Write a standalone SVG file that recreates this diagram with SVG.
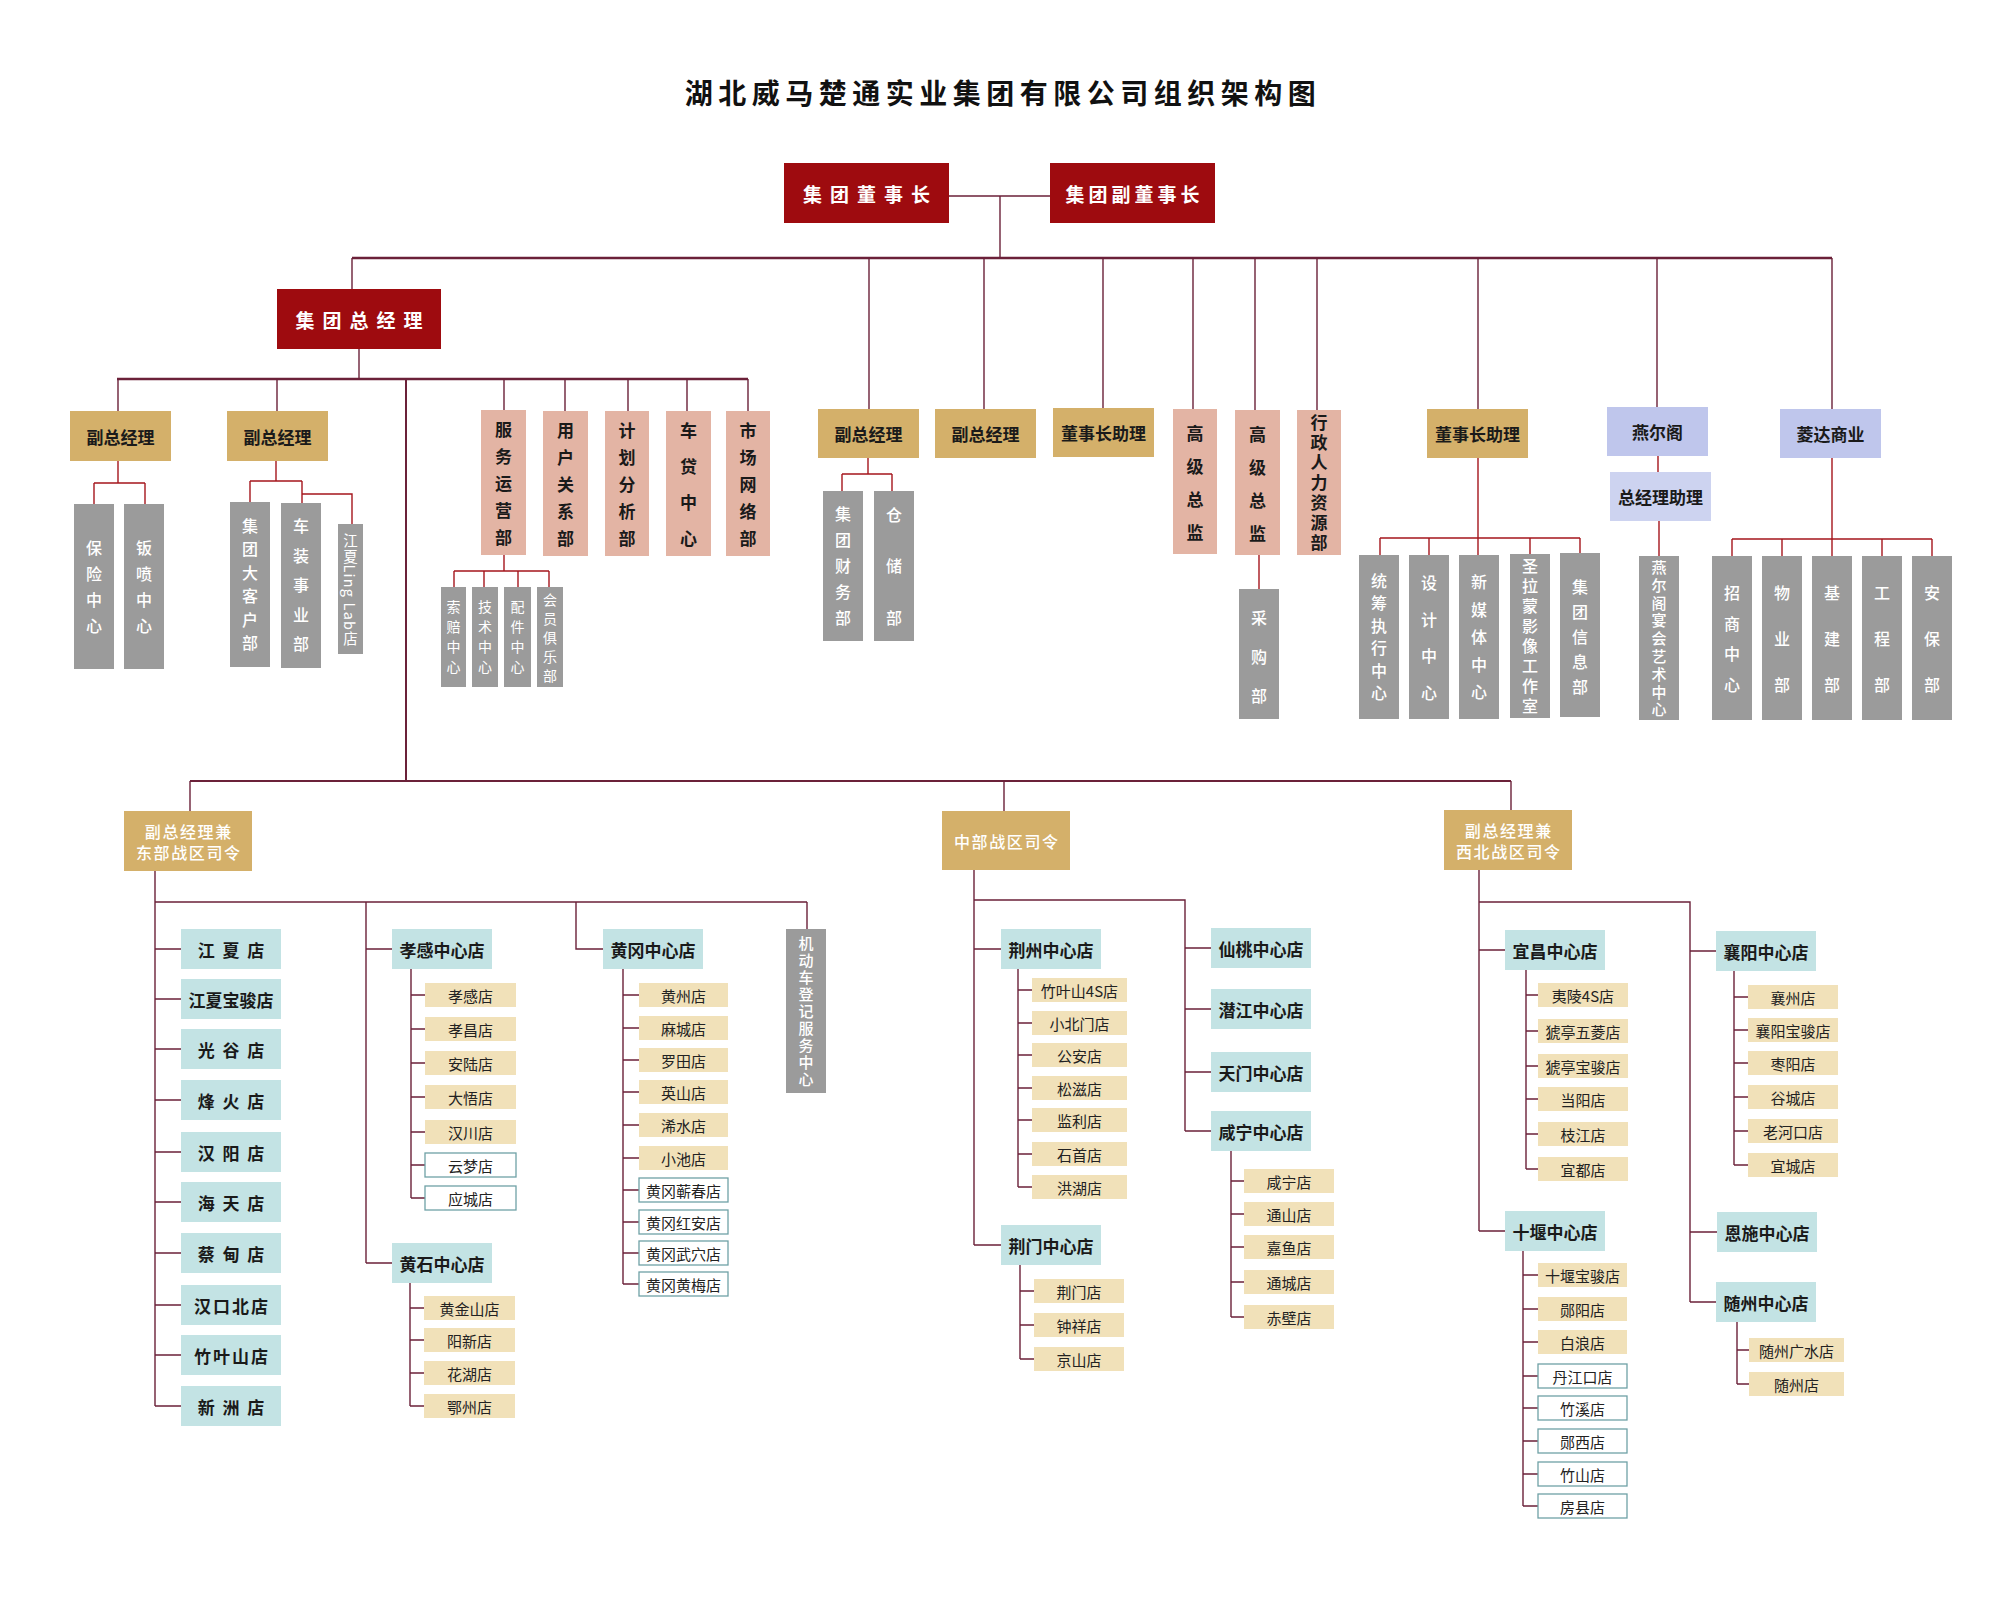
<svg xmlns="http://www.w3.org/2000/svg" width="2000" height="1600" viewBox="0 0 2000 1600">
<style>
text{font-family:"Noto Sans CJK SC","Liberation Sans",sans-serif;}
.red{fill:#9e0b0f}
.gold{fill:#d4b06a}
.pink{fill:#e3b4a4}
.grey{fill:#9b9b9b}
.blue{fill:#c3e3e4}
.beige{fill:#f1e1b9}
.wb{fill:#ffffff;stroke:#6fa1a6;stroke-width:1.3}
.lav{fill:#bfc6ec}
.lav2{fill:#cdd3f0}
.title{font-size:28px;font-weight:700;fill:#111;text-anchor:middle;letter-spacing:5.5px}
.tr{font-size:19px;font-weight:700;fill:#fff;text-anchor:middle;dominant-baseline:central}
.tg{font-size:17px;font-weight:700;fill:#1a1a1a;text-anchor:middle;dominant-baseline:central}
.tw{font-size:16px;font-weight:500;fill:#fff;text-anchor:middle;dominant-baseline:central;letter-spacing:1.6px}
.tb{font-size:17px;font-weight:700;fill:#1a1a1a;text-anchor:middle;dominant-baseline:central}
.ts{font-size:15px;fill:#222;text-anchor:middle;dominant-baseline:central}
.vp{font-size:17px;font-weight:700;fill:#1a1a1a;text-anchor:middle;writing-mode:vertical-rl}
.vg{font-size:16px;font-weight:500;fill:#fff;text-anchor:middle;writing-mode:vertical-rl}
.vs{font-size:14px;fill:#fff;text-anchor:middle;writing-mode:vertical-rl}
.ln{fill:none;stroke:#6b2139;stroke-width:1.4}
.bus{fill:none;stroke:#6b2139;stroke-width:2.6}
.rl{fill:none;stroke:#a5161d;stroke-width:1.4}
</style>

<text class="title" x="1003" y="104">湖北威马楚通实业集团有限公司组织架构图</text>

<g id="connectors">
  <path class="ln" d="M949,196 H1050 M1000,196 V258"/>
  <path class="bus" d="M352,258 H1832"/>
  <path class="ln" d="M352,258 V289 M869,258 V409 M984,258 V409 M1103,258 V408 M1193,258 V409 M1255,258 V410 M1317,258 V410 M1478,258 V409 M1657,258 V407 M1832,258 V409"/>
  <path class="ln" d="M359,349 V379"/>
  <path class="bus" d="M117,379 H748"/>
  <path class="ln" d="M118,379 V411 M277,379 V411 M504,379 V410 M565,379 V411 M628,379 V411 M687,379 V411 M748,379 V411"/>
  <path class="ln" style="stroke-width:2" d="M406,379 V781"/>
  <path class="rl" d="M118,461 V483 M94,483 H145 M94,483 V504 M145,483 V504"/>
  <path class="rl" d="M276,461 V481 M250,481 H302 M250,481 V502 M302,481 V503 M302,494 H352 V524"/>
  <path class="rl" d="M504,555 V571 M454,571 H549 M454,571 V587 M484,571 V587 M518,571 V587 M549,571 V587"/>
  <path class="rl" d="M868,458 V474 M842,474 H892 M842,474 V491 M892,474 V491"/>
  <path class="rl" d="M1259,555 V589"/>
  <path class="rl" d="M1478,458 V538 M1380,538 H1580 M1380,538 V555 M1429,538 V555 M1478,538 V555 M1530,538 V554 M1580,538 V553"/>
  <path class="rl" d="M1658,456 V472 M1659,521 V556"/>
  <path class="rl" d="M1832,458 V539 M1732,539 H1932 M1732,539 V556 M1782,539 V556 M1832,539 V556 M1882,539 V556 M1932,539 V556"/>
  <path class="ln" style="stroke-width:2" d="M190,781 H1511"/>
  <path class="ln" d="M190,781 V811 M1004,781 V811 M1511,781 V810"/>
  <path class="ln" d="M155,871 V1406 M155,902 H807 M366,902 V1263 M576,902 V949 H603 M807,902 V929"/>
  <path class="ln" d="M155,949 H181 M155,999 H181 M155,1049 H181 M155,1100 H181 M155,1152 H181 M155,1202 H181 M155,1253 H181 M155,1305 H181 M155,1355 H181 M155,1406 H181"/>
  <path class="ln" d="M366,949 H392 M411,969 V1198 M411,995 H425 M411,1029 H425 M411,1063 H425 M411,1097 H425 M411,1132 H425 M411,1165 H425 M411,1198 H425"/>
  <path class="ln" d="M366,1263 H392 M410,1283 V1406 M410,1308 H424 M410,1340 H424 M410,1373 H424 M410,1406 H424"/>
  <path class="ln" d="M623,969 V1284 M623,995 H639 M623,1028 H639 M623,1060 H639 M623,1092 H639 M623,1125 H639 M623,1158 H639 M623,1190 H639 M623,1222 H639 M623,1253 H639 M623,1284 H639"/>
  <path class="ln" d="M974,870 V1245 M974,900 H1185 V1131 M974,949 H1001 M974,1245 H1001"/>
  <path class="ln" d="M1018,969 V1187 M1018,990 H1032 M1018,1023 H1032 M1018,1055 H1032 M1018,1088 H1032 M1018,1120 H1032 M1018,1154 H1032 M1018,1187 H1032"/>
  <path class="ln" d="M1020,1265 V1359 M1020,1291 H1034 M1020,1325 H1034 M1020,1359 H1034"/>
  <path class="ln" d="M1185,948 H1211 M1185,1009 H1211 M1185,1072 H1211 M1185,1131 H1211"/>
  <path class="ln" d="M1231,1151 V1317 M1231,1181 H1244 M1231,1214 H1244 M1231,1247 H1244 M1231,1282 H1244 M1231,1317 H1244"/>
  <path class="ln" d="M1479,870 V1231 M1479,902 H1690 V1302 M1479,950 H1505 M1479,1231 H1505"/>
  <path class="ln" d="M1526,970 V1169 M1526,995 H1538 M1526,1031 H1538 M1526,1066 H1538 M1526,1099 H1538 M1526,1134 H1538 M1526,1169 H1538"/>
  <path class="ln" d="M1523,1251 V1506 M1523,1275 H1538 M1523,1309 H1538 M1523,1342 H1538 M1523,1376 H1538 M1523,1408 H1538 M1523,1441 H1538 M1523,1474 H1538 M1523,1506 H1538"/>
  <path class="ln" d="M1690,951 H1716 M1690,1232 H1717 M1690,1302 H1716"/>
  <path class="ln" d="M1734,971 V1165 M1734,997 H1748 M1734,1030 H1748 M1734,1063 H1748 M1734,1097 H1748 M1734,1131 H1748 M1734,1165 H1748"/>
  <path class="ln" d="M1737,1322 V1384 M1737,1350 H1749 M1737,1384 H1749"/>
</g>

<g id="n_chair"><rect class="red" x="784" y="163" width="165" height="60"/><text class="tr" x="870.5" y="193" letter-spacing="8">集团董事长</text></g>
<g id="n_vchair"><rect class="red" x="1050" y="163" width="165" height="60"/><text class="tr" x="1134.5" y="193" letter-spacing="4">集团副董事长</text></g>
<g id="n_gm"><rect class="red" x="277" y="289" width="164" height="60"/><text class="tr" x="363" y="319" letter-spacing="8">集团总经理</text></g>

<g id="n_vp1"><rect class="gold" x="70" y="411" width="101" height="50"/><text class="tg" x="120.5" y="436">副总经理</text></g>
<g id="n_vp2"><rect class="gold" x="227" y="411" width="101" height="50"/><text class="tg" x="277.5" y="436">副总经理</text></g>
<g id="n_ins"><rect class="grey" x="74" y="504" width="40" height="165"/><text class="vg" x="94" y="591.5" letter-spacing="10">保险中心</text></g>
<g id="n_paint"><rect class="grey" x="124" y="504" width="40" height="165"/><text class="vg" x="144" y="591.5" letter-spacing="10">钣喷中心</text></g>
<g id="n_bigcust"><rect class="grey" x="230" y="502" width="40" height="165"/><text class="vg" x="250" y="588" letter-spacing="7.5">集团大客户部</text></g>
<g id="n_carmod"><rect class="grey" x="281" y="503" width="40" height="165"/><text class="vg" x="301" y="592" letter-spacing="13.5">车装事业部</text></g>
<g id="n_linglab"><rect class="grey" x="338" y="524" width="25" height="130"/><text class="vs" x="350.5" y="590" style="font-size:14.5px" letter-spacing="1.2">江夏Ling Lab店</text></g>

<g id="n_svc"><rect class="pink" x="481" y="410" width="45" height="145"/><text class="vp" x="503.5" y="489" letter-spacing="10">服务运营部</text></g>
<g id="n_user"><rect class="pink" x="543" y="411" width="45" height="145"/><text class="vp" x="565.5" y="490" letter-spacing="10">用户关系部</text></g>
<g id="n_plan"><rect class="pink" x="605" y="411" width="44" height="145"/><text class="vp" x="627" y="490" letter-spacing="10">计划分析部</text></g>
<g id="n_loan"><rect class="pink" x="666" y="411" width="45" height="145"/><text class="vp" x="688.5" y="494" letter-spacing="19">车贷中心</text></g>
<g id="n_mkt"><rect class="pink" x="726" y="411" width="44" height="145"/><text class="vp" x="748" y="490" letter-spacing="10">市场网络部</text></g>
<g id="n_claim"><rect class="grey" x="441" y="587" width="25" height="100"/><text class="vs" x="453.5" y="640" letter-spacing="6">索赔中心</text></g>
<g id="n_tech"><rect class="grey" x="472" y="587" width="26" height="100"/><text class="vs" x="485" y="640" letter-spacing="6">技术中心</text></g>
<g id="n_parts"><rect class="grey" x="504" y="587" width="27" height="100"/><text class="vs" x="517.5" y="640" letter-spacing="6">配件中心</text></g>
<g id="n_club"><rect class="grey" x="537" y="587" width="26" height="100"/><text class="vs" x="550" y="640" letter-spacing="5">会员俱乐部</text></g>

<g id="n_vp3"><rect class="gold" x="818" y="409" width="101" height="49"/><text class="tg" x="868.5" y="433.5">副总经理</text></g>
<g id="n_fin"><rect class="grey" x="823" y="491" width="40" height="150"/><text class="vg" x="843" y="571" letter-spacing="10">集团财务部</text></g>
<g id="n_store"><rect class="grey" x="874" y="491" width="40" height="150"/><text class="vg" x="894" y="584" letter-spacing="35.5">仓储部</text></g>
<g id="n_vp4"><rect class="gold" x="935" y="409" width="101" height="49"/><text class="tg" x="985.5" y="433.5">副总经理</text></g>
<g id="n_asst1"><rect class="gold" x="1053" y="408" width="101" height="49"/><text class="tg" x="1103.5" y="432.5">董事长助理</text></g>
<g id="n_dir1"><rect class="pink" x="1173" y="409" width="44" height="145"/><text class="vp" x="1195" y="491" letter-spacing="16">高级总监</text></g>
<g id="n_dir2"><rect class="pink" x="1235" y="410" width="45" height="145"/><text class="vp" x="1257.5" y="492" letter-spacing="16">高级总监</text></g>
<g id="n_purch"><rect class="grey" x="1239" y="589" width="40" height="130"/><text class="vg" x="1259" y="668" letter-spacing="23">采购部</text></g>
<g id="n_hr"><rect class="pink" x="1297" y="410" width="44" height="145"/><text class="vp" x="1319" y="484" letter-spacing="3">行政人力资源部</text></g>

<g id="n_asst2"><rect class="gold" x="1427" y="409" width="101" height="49"/><text class="tg" x="1477.5" y="433.5">董事长助理</text></g>
<g id="n_exec"><rect class="grey" x="1359" y="555" width="40" height="164"/><text class="vg" x="1379" y="640" letter-spacing="6.5">统筹执行中心</text></g>
<g id="n_design"><rect class="grey" x="1409" y="555" width="40" height="164"/><text class="vg" x="1429" y="648" letter-spacing="20.5">设计中心</text></g>
<g id="n_media"><rect class="grey" x="1459" y="555" width="40" height="164"/><text class="vg" x="1479" y="643" letter-spacing="11.5">新媒体中心</text></g>
<g id="n_slm"><rect class="grey" x="1510" y="554" width="40" height="164"/><text class="vg" x="1530" y="638" letter-spacing="4">圣拉蒙影像工作室</text></g>
<g id="n_info"><rect class="grey" x="1560" y="553" width="40" height="164"/><text class="vg" x="1580" y="641" letter-spacing="9">集团信息部</text></g>

<g id="n_yeg"><rect class="lav" x="1607" y="407" width="101" height="49"/><text class="tg" x="1657.5" y="431.5">燕尔阁</text></g>
<g id="n_yegasst"><rect class="lav2" x="1610" y="472" width="101" height="49"/><text class="tg" x="1660.5" y="496.5">总经理助理</text></g>
<g id="n_yegart"><rect class="grey" x="1639" y="556" width="40" height="164"/><text class="vg" x="1659" y="640" style="font-size:15px" letter-spacing="2.8">燕尔阁宴会艺术中心</text></g>

<g id="n_lingda"><rect class="lav" x="1780" y="409" width="101" height="49"/><text class="tg" x="1830.5" y="433.5">菱达商业</text></g>
<g id="n_zs"><rect class="grey" x="1712" y="556" width="40" height="164"/><text class="vg" x="1732" y="646" letter-spacing="14.5">招商中心</text></g>
<g id="n_wy"><rect class="grey" x="1762" y="556" width="40" height="164"/><text class="vg" x="1782" y="654" letter-spacing="30">物业部</text></g>
<g id="n_jj"><rect class="grey" x="1812" y="556" width="40" height="164"/><text class="vg" x="1832" y="654" letter-spacing="30">基建部</text></g>
<g id="n_gc"><rect class="grey" x="1862" y="556" width="40" height="164"/><text class="vg" x="1882" y="654" letter-spacing="30">工程部</text></g>
<g id="n_ab"><rect class="grey" x="1912" y="556" width="40" height="164"/><text class="vg" x="1932" y="654" letter-spacing="30">安保部</text></g>

<g id="n_east"><rect class="gold" x="124" y="811" width="128" height="60"/><text class="tw" x="188.8" y="831">副总经理兼</text><text class="tw" x="188.8" y="852">东部战区司令</text></g>
<g id="n_jx"><rect class="blue" x="181" y="929" width="100" height="40"/><text class="tb" x="232" y="949" letter-spacing="2">江 夏 店</text></g>
<g id="n_jxbj"><rect class="blue" x="181" y="979" width="100" height="40"/><text class="tb" x="231" y="999">江夏宝骏店</text></g>
<g id="n_gg"><rect class="blue" x="181" y="1029" width="100" height="40"/><text class="tb" x="232" y="1049" letter-spacing="2">光 谷 店</text></g>
<g id="n_fh"><rect class="blue" x="181" y="1080" width="100" height="40"/><text class="tb" x="232" y="1100" letter-spacing="2">烽 火 店</text></g>
<g id="n_hy"><rect class="blue" x="181" y="1132" width="100" height="40"/><text class="tb" x="232" y="1152" letter-spacing="2">汉 阳 店</text></g>
<g id="n_ht"><rect class="blue" x="181" y="1182" width="100" height="40"/><text class="tb" x="232" y="1202" letter-spacing="2">海 天 店</text></g>
<g id="n_cd"><rect class="blue" x="181" y="1233" width="100" height="40"/><text class="tb" x="232" y="1253" letter-spacing="2">蔡 甸 店</text></g>
<g id="n_hkb"><rect class="blue" x="181" y="1285" width="100" height="40"/><text class="tb" x="232" y="1305" letter-spacing="2">汉口北店</text></g>
<g id="n_zys"><rect class="blue" x="181" y="1335" width="100" height="40"/><text class="tb" x="232" y="1355" letter-spacing="2">竹叶山店</text></g>
<g id="n_xz"><rect class="blue" x="181" y="1386" width="100" height="40"/><text class="tb" x="232" y="1406" letter-spacing="2">新 洲 店</text></g>

<g id="n_xg"><rect class="blue" x="392" y="929" width="100" height="40"/><text class="tb" x="442" y="949">孝感中心店</text></g>
<g id="n_xg1"><rect class="beige" x="425" y="983" width="91" height="24"/><text class="ts" x="470.5" y="995">孝感店</text></g>
<g id="n_xg2"><rect class="beige" x="425" y="1017" width="91" height="24"/><text class="ts" x="470.5" y="1029">孝昌店</text></g>
<g id="n_xg3"><rect class="beige" x="425" y="1051" width="91" height="24"/><text class="ts" x="470.5" y="1063">安陆店</text></g>
<g id="n_xg4"><rect class="beige" x="425" y="1085" width="91" height="24"/><text class="ts" x="470.5" y="1097">大悟店</text></g>
<g id="n_xg5"><rect class="beige" x="425" y="1120" width="91" height="24"/><text class="ts" x="470.5" y="1132">汉川店</text></g>
<g id="n_xg6"><rect class="wb" x="425" y="1153" width="91" height="24"/><text class="ts" x="470.5" y="1165">云梦店</text></g>
<g id="n_xg7"><rect class="wb" x="425" y="1186" width="91" height="24"/><text class="ts" x="470.5" y="1198">应城店</text></g>

<g id="n_hs"><rect class="blue" x="392" y="1243" width="100" height="40"/><text class="tb" x="442" y="1263">黄石中心店</text></g>
<g id="n_hs1"><rect class="beige" x="424" y="1296" width="91" height="24"/><text class="ts" x="469.5" y="1308">黄金山店</text></g>
<g id="n_hs2"><rect class="beige" x="424" y="1328" width="91" height="24"/><text class="ts" x="469.5" y="1340">阳新店</text></g>
<g id="n_hs3"><rect class="beige" x="424" y="1361" width="91" height="24"/><text class="ts" x="469.5" y="1373">花湖店</text></g>
<g id="n_hs4"><rect class="beige" x="424" y="1394" width="91" height="24"/><text class="ts" x="469.5" y="1406">鄂州店</text></g>

<g id="n_hg"><rect class="blue" x="603" y="929" width="100" height="40"/><text class="tb" x="653" y="949">黄冈中心店</text></g>
<g id="n_hg1"><rect class="beige" x="639" y="983" width="89" height="24"/><text class="ts" x="683.5" y="995">黄州店</text></g>
<g id="n_hg2"><rect class="beige" x="639" y="1016" width="89" height="24"/><text class="ts" x="683.5" y="1028">麻城店</text></g>
<g id="n_hg3"><rect class="beige" x="639" y="1048" width="89" height="24"/><text class="ts" x="683.5" y="1060">罗田店</text></g>
<g id="n_hg4"><rect class="beige" x="639" y="1080" width="89" height="24"/><text class="ts" x="683.5" y="1092">英山店</text></g>
<g id="n_hg5"><rect class="beige" x="639" y="1113" width="89" height="24"/><text class="ts" x="683.5" y="1125">浠水店</text></g>
<g id="n_hg6"><rect class="beige" x="639" y="1146" width="89" height="24"/><text class="ts" x="683.5" y="1158">小池店</text></g>
<g id="n_hg7"><rect class="wb" x="639" y="1178" width="89" height="24"/><text class="ts" x="683.5" y="1190">黄冈蕲春店</text></g>
<g id="n_hg8"><rect class="wb" x="639" y="1210" width="89" height="24"/><text class="ts" x="683.5" y="1222">黄冈红安店</text></g>
<g id="n_hg9"><rect class="wb" x="639" y="1241" width="89" height="24"/><text class="ts" x="683.5" y="1253">黄冈武穴店</text></g>
<g id="n_hg10"><rect class="wb" x="639" y="1272" width="89" height="24"/><text class="ts" x="683.5" y="1284">黄冈黄梅店</text></g>

<g id="n_jdc"><rect class="grey" x="786" y="929" width="40" height="164"/><text class="vg" x="806" y="1012" style="font-size:15px" letter-spacing="2">机动车登记服务中心</text></g>

<g id="n_central"><rect class="gold" x="942" y="811" width="128" height="59"/><text class="tw" x="1006.8" y="841">中部战区司令</text></g>
<g id="n_jz"><rect class="blue" x="1001" y="929" width="100" height="40"/><text class="tb" x="1051" y="949">荆州中心店</text></g>
<g id="n_jz1"><rect class="beige" x="1032" y="978" width="95" height="24"/><text class="ts" x="1079.5" y="990">竹叶山4S店</text></g>
<g id="n_jz2"><rect class="beige" x="1032" y="1011" width="95" height="24"/><text class="ts" x="1079.5" y="1023">小北门店</text></g>
<g id="n_jz3"><rect class="beige" x="1032" y="1043" width="95" height="24"/><text class="ts" x="1079.5" y="1055">公安店</text></g>
<g id="n_jz4"><rect class="beige" x="1032" y="1076" width="95" height="24"/><text class="ts" x="1079.5" y="1088">松滋店</text></g>
<g id="n_jz5"><rect class="beige" x="1032" y="1108" width="95" height="24"/><text class="ts" x="1079.5" y="1120">监利店</text></g>
<g id="n_jz6"><rect class="beige" x="1032" y="1142" width="95" height="24"/><text class="ts" x="1079.5" y="1154">石首店</text></g>
<g id="n_jz7"><rect class="beige" x="1032" y="1175" width="95" height="24"/><text class="ts" x="1079.5" y="1187">洪湖店</text></g>
<g id="n_jm"><rect class="blue" x="1001" y="1225" width="100" height="40"/><text class="tb" x="1051" y="1245">荆门中心店</text></g>
<g id="n_jm1"><rect class="beige" x="1034" y="1279" width="90" height="24"/><text class="ts" x="1079" y="1291">荆门店</text></g>
<g id="n_jm2"><rect class="beige" x="1034" y="1313" width="90" height="24"/><text class="ts" x="1079" y="1325">钟祥店</text></g>
<g id="n_jm3"><rect class="beige" x="1034" y="1347" width="90" height="24"/><text class="ts" x="1079" y="1359">京山店</text></g>
<g id="n_xt"><rect class="blue" x="1211" y="928" width="100" height="40"/><text class="tb" x="1261" y="948">仙桃中心店</text></g>
<g id="n_qj"><rect class="blue" x="1211" y="989" width="100" height="40"/><text class="tb" x="1261" y="1009">潜江中心店</text></g>
<g id="n_tm"><rect class="blue" x="1211" y="1052" width="100" height="40"/><text class="tb" x="1261" y="1072">天门中心店</text></g>
<g id="n_xn"><rect class="blue" x="1211" y="1111" width="100" height="40"/><text class="tb" x="1261" y="1131">咸宁中心店</text></g>
<g id="n_xn1"><rect class="beige" x="1244" y="1169" width="90" height="24"/><text class="ts" x="1289" y="1181">咸宁店</text></g>
<g id="n_xn2"><rect class="beige" x="1244" y="1202" width="90" height="24"/><text class="ts" x="1289" y="1214">通山店</text></g>
<g id="n_xn3"><rect class="beige" x="1244" y="1235" width="90" height="24"/><text class="ts" x="1289" y="1247">嘉鱼店</text></g>
<g id="n_xn4"><rect class="beige" x="1244" y="1270" width="90" height="24"/><text class="ts" x="1289" y="1282">通城店</text></g>
<g id="n_xn5"><rect class="beige" x="1244" y="1305" width="90" height="24"/><text class="ts" x="1289" y="1317">赤壁店</text></g>

<g id="n_west"><rect class="gold" x="1444" y="810" width="128" height="60"/><text class="tw" x="1508.8" y="830">副总经理兼</text><text class="tw" x="1508.8" y="851">西北战区司令</text></g>
<g id="n_yc"><rect class="blue" x="1505" y="930" width="100" height="40"/><text class="tb" x="1555" y="950">宜昌中心店</text></g>
<g id="n_yc1"><rect class="beige" x="1538" y="983" width="90" height="24"/><text class="ts" x="1583" y="995">夷陵4S店</text></g>
<g id="n_yc2"><rect class="beige" x="1538" y="1019" width="90" height="24"/><text class="ts" x="1583" y="1031">猇亭五菱店</text></g>
<g id="n_yc3"><rect class="beige" x="1538" y="1054" width="90" height="24"/><text class="ts" x="1583" y="1066">猇亭宝骏店</text></g>
<g id="n_yc4"><rect class="beige" x="1538" y="1087" width="90" height="24"/><text class="ts" x="1583" y="1099">当阳店</text></g>
<g id="n_yc5"><rect class="beige" x="1538" y="1122" width="90" height="24"/><text class="ts" x="1583" y="1134">枝江店</text></g>
<g id="n_yc6"><rect class="beige" x="1538" y="1157" width="90" height="24"/><text class="ts" x="1583" y="1169">宜都店</text></g>
<g id="n_sy"><rect class="blue" x="1505" y="1211" width="100" height="40"/><text class="tb" x="1555" y="1231">十堰中心店</text></g>
<g id="n_sy1"><rect class="beige" x="1538" y="1263" width="89" height="24"/><text class="ts" x="1582.5" y="1275">十堰宝骏店</text></g>
<g id="n_sy2"><rect class="beige" x="1538" y="1297" width="89" height="24"/><text class="ts" x="1582.5" y="1309">郧阳店</text></g>
<g id="n_sy3"><rect class="beige" x="1538" y="1330" width="89" height="24"/><text class="ts" x="1582.5" y="1342">白浪店</text></g>
<g id="n_sy4"><rect class="wb" x="1538" y="1364" width="89" height="24"/><text class="ts" x="1582.5" y="1376">丹江口店</text></g>
<g id="n_sy5"><rect class="wb" x="1538" y="1396" width="89" height="24"/><text class="ts" x="1582.5" y="1408">竹溪店</text></g>
<g id="n_sy6"><rect class="wb" x="1538" y="1429" width="89" height="24"/><text class="ts" x="1582.5" y="1441">郧西店</text></g>
<g id="n_sy7"><rect class="wb" x="1538" y="1462" width="89" height="24"/><text class="ts" x="1582.5" y="1474">竹山店</text></g>
<g id="n_sy8"><rect class="wb" x="1538" y="1494" width="89" height="24"/><text class="ts" x="1582.5" y="1506">房县店</text></g>
<g id="n_xy"><rect class="blue" x="1716" y="931" width="100" height="40"/><text class="tb" x="1766" y="951">襄阳中心店</text></g>
<g id="n_xy1"><rect class="beige" x="1748" y="985" width="90" height="24"/><text class="ts" x="1793" y="997">襄州店</text></g>
<g id="n_xy2"><rect class="beige" x="1748" y="1018" width="90" height="24"/><text class="ts" x="1793" y="1030">襄阳宝骏店</text></g>
<g id="n_xy3"><rect class="beige" x="1748" y="1051" width="90" height="24"/><text class="ts" x="1793" y="1063">枣阳店</text></g>
<g id="n_xy4"><rect class="beige" x="1748" y="1085" width="90" height="24"/><text class="ts" x="1793" y="1097">谷城店</text></g>
<g id="n_xy5"><rect class="beige" x="1748" y="1119" width="90" height="24"/><text class="ts" x="1793" y="1131">老河口店</text></g>
<g id="n_xy6"><rect class="beige" x="1748" y="1153" width="90" height="24"/><text class="ts" x="1793" y="1165">宜城店</text></g>
<g id="n_es"><rect class="blue" x="1717" y="1212" width="100" height="40"/><text class="tb" x="1767" y="1232">恩施中心店</text></g>
<g id="n_sz"><rect class="blue" x="1716" y="1282" width="100" height="40"/><text class="tb" x="1766" y="1302">随州中心店</text></g>
<g id="n_sz1"><rect class="beige" x="1749" y="1338" width="95" height="24"/><text class="ts" x="1796.5" y="1350">随州广水店</text></g>
<g id="n_sz2"><rect class="beige" x="1749" y="1372" width="95" height="24"/><text class="ts" x="1796.5" y="1384">随州店</text></g>
</svg>
